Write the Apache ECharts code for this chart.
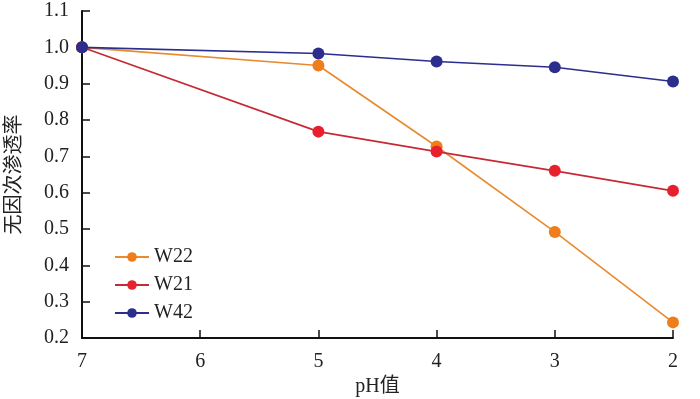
<!DOCTYPE html>
<html>
<head>
<meta charset="utf-8">
<script src="https://cdn.jsdelivr.net/npm/echarts@6/dist/echarts.min.js"></script>
<style>
  html, body { margin: 0; padding: 0; background: #fff; }
  #chart { width: 700px; height: 399px; }
</style>
</head>
<body>
<div id="chart"></div>
<script>
// pH 值（横轴倒序 7 → 2）
var phValues = [7, 5, 4, 3, 2];
// 各岩心的无因次渗透率
var w22 = [1.0, 0.950, 0.727, 0.492, 0.243];
var w21 = [1.0, 0.768, 0.713, 0.660, 0.605];
var w42 = [1.0, 0.983, 0.961, 0.945, 0.906];
var seriesNames = ['W22', 'W21', 'W42'];

var serif = '"Liberation Serif", "Noto Sans CJK SC", serif';

function pairs(vals) {
  return phValues.map(function (x, i) { return [x, vals[i]]; });
}

function makeSeries(name, vals, color, lineColor) {
  return {
    name: name,
    type: 'line',
    data: pairs(vals),
    symbol: 'circle',
    symbolSize: 12,
    itemStyle: { color: color },
    lineStyle: { color: lineColor, width: 1.6 },
    emphasis: { disabled: true }
  };
}

var myChart = echarts.init(document.getElementById('chart'));
myChart.setOption({
  backgroundColor: '#fff',
  animation: false,
  grid: { left: 82, right: 27, top: 11, bottom: 61, outerBoundsMode: 'none', containLabel: false },
  legend: {
    orient: 'vertical',
    left: 109,
    top: 242,
    itemWidth: 34,
    itemHeight: 12,
    itemGap: 8,
    data: seriesNames,
    textStyle: { fontFamily: serif, fontSize: 20, color: '#222' }
  },
  xAxis: {
    type: 'value',
    inverse: true,
    min: 2,
    max: 7,
    interval: 1,
    name: 'pH值',
    nameLocation: 'middle',
    nameGap: 38,
    nameTextStyle: { fontFamily: serif, fontSize: 20, color: '#222' },
    axisLine: { lineStyle: { color: '#111', width: 2 } },
    axisTick: { inside: true, length: 8, lineStyle: { color: '#111', width: 1.5 } },
    axisLabel: { fontFamily: serif, fontSize: 20, color: '#222', margin: 14 },
    splitLine: { show: false }
  },
  yAxis: {
    type: 'value',
    min: 0.2,
    max: 1.1,
    interval: 0.1,
    name: '无因次渗透率',
    nameLocation: 'middle',
    nameGap: 57,
    nameTextStyle: { fontFamily: serif, fontSize: 20, color: '#222' },
    axisLine: { show: true, lineStyle: { color: '#111', width: 2 } },
    axisTick: { show: true, inside: true, length: 8, lineStyle: { color: '#111', width: 1.5 } },
    axisLabel: {
      fontFamily: serif, fontSize: 20, color: '#222', margin: 13,
      formatter: function (v) { return v.toFixed(1); }
    },
    splitLine: { show: false }
  },
  series: [
    makeSeries('W22', w22, '#f07d1c', '#e88a2e'),
    makeSeries('W21', w21, '#e8202e', '#c62a36'),
    makeSeries('W42', w42, '#2b2e8c', '#2b2e8c')
  ]
});
</script>
</body>
</html>
